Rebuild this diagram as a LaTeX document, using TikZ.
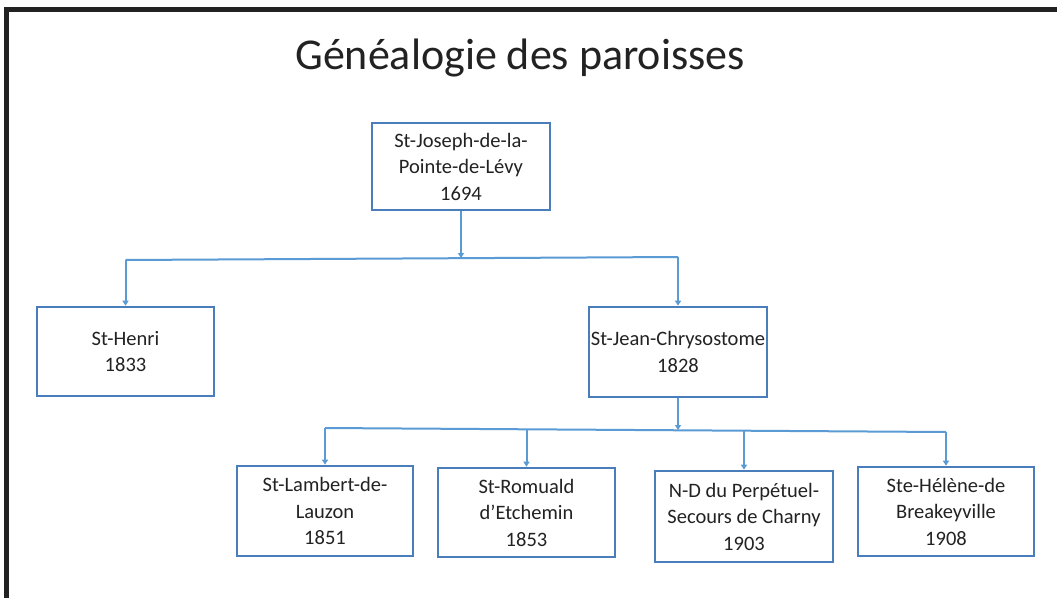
\documentclass[tikz,border=0pt]{standalone}
\usepackage{fontspec}
\setmainfont{Carlito}
\usetikzlibrary{arrows.meta}
\definecolor{boxblue}{HTML}{4A7EBB}
\definecolor{linkblue}{HTML}{5B9BD5}
\definecolor{txt}{HTML}{222222}
\tikzset{
  parish/.style={draw=boxblue, line width=2.6pt, fill=white, text=txt,
    align=center, inner sep=0pt, font=\fontsize{20.5}{26.5}\selectfont},
  link/.style={draw=linkblue, line width=2pt,
    -{Triangle[width=6pt,length=5pt]}},
  bar/.style={draw=linkblue, line width=2pt},
}
\begin{document}
\begin{tikzpicture}[x=1pt,y=-1pt]
\useasboundingbox (0,0) rectangle (1057,597);
\fill[white] (0,0) rectangle (1057,597);
\draw[color=txt, line width=5pt] (6.5,600) -- (6.5,9.5) -- (1060,9.5);
\node[font=\fontsize{44}{50}\selectfont, text=txt, anchor=base] (title) at (520,69) {Généalogie des paroisses};
\node[parish, minimum width=178pt, minimum height=87pt] (root) at (461,166.5) {St-Joseph-de-la-\\Pointe-de-Lévy\\1694};
\node[parish, minimum width=177pt, minimum height=89pt] (henri) at (125.5,351.5) {St-Henri\\1833};
\node[parish, minimum width=178pt, minimum height=90pt] (jean) at (678,352) {St-Jean-Chrysostome\\1828};
\node[parish, minimum width=176pt, minimum height=90pt] (lambert) at (325,511) {St-Lambert-de-\\Lauzon\\1851};
\node[parish, minimum width=177pt, minimum height=89pt] (romuald) at (526.5,512.5) {St-Romuald\\d’Etchemin\\1853};
\node[parish, minimum width=178pt, minimum height=91pt] (nd) at (744,516.5) {N-D du Perpétuel-\\Secours de Charny\\1903};
\node[parish, minimum width=176pt, minimum height=89pt] (helene) at (946,511.5) {Ste-Hélène-de\\Breakeyville\\1908};
\coordinate (j1) at (461,258);
\coordinate (j1l) at (125.5,260);
\coordinate (j1r) at (678,257);
\coordinate (j2) at (678,430);
\coordinate (j2l) at (325,428);
\coordinate (j2r) at (946,432);
\draw[link] (root.south) -- (j1);
\draw[bar] (j1l) -- (j1r);
\draw[link] (j1l) -- (henri.north);
\draw[link] (j1r) -- (jean.north);
\draw[link] (jean.south) -- (j2);
\draw[bar] (j2l) -- (j2r);
\draw[link] (j2l) -- (lambert.north);
\draw[link] (romuald.north |- j2) -- (romuald.north);
\draw[link] (nd.north |- j2) -- (nd.north);
\draw[link] (j2r) -- (helene.north);
\end{tikzpicture}
\end{document}
